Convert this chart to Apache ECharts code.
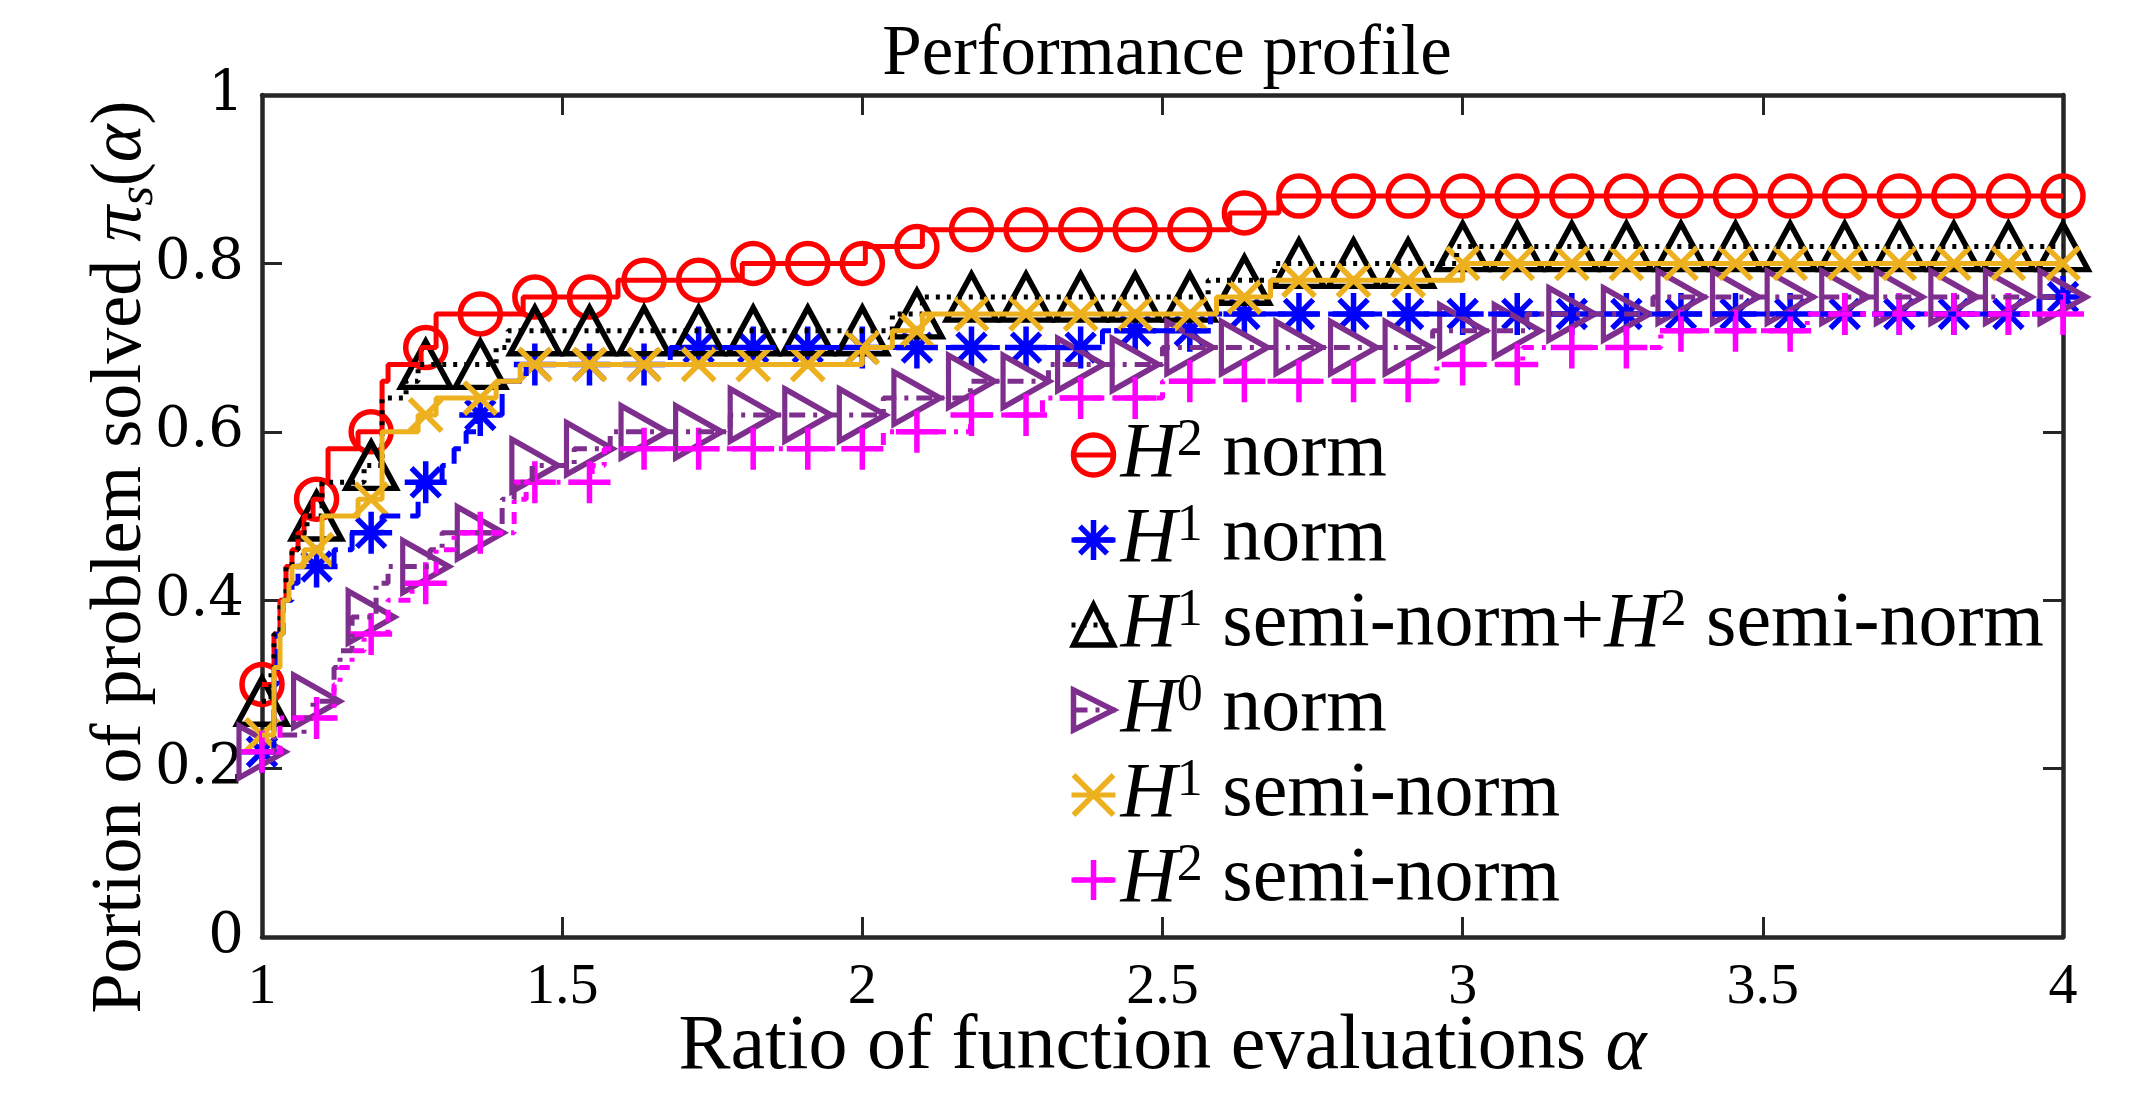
<!DOCTYPE html>
<html lang="en">
<head>
<meta charset="UTF-8">
<title>Performance profile</title>
<script src="https://cdn.jsdelivr.net/npm/echarts@6/dist/echarts.min.js"></script>
<style>
  html, body { margin: 0; padding: 0; background: #fff; }
  #main { width: 2129px; height: 1107px; }
</style>
</head>
<body>
<div id="main"></div>
<script>
// alpha positions where the markers sit (same for every curve)
var markAlpha = [1, 1.0909, 1.1818, 1.2727, 1.3636, 1.4545, 1.5455, 1.6364, 1.7273, 1.8182,
                 1.9091, 2, 2.0909, 2.1818, 2.2727, 2.3636, 2.4545, 2.5455, 2.6364, 2.7273,
                 2.8182, 2.9091, 3, 3.0909, 3.1818, 3.2727, 3.3636, 3.4545, 3.5455, 3.6364,
                 3.7273, 3.8182, 3.9091, 4];

// stair breakpoints: alpha where the curve steps, and the new value
var h2NormAlpha = [1, 1.02, 1.03, 1.04, 1.05, 1.06, 1.07, 1.085, 1.10, 1.11, 1.16, 1.20, 1.21, 1.265, 1.29, 1.435, 1.593, 1.80, 2.005, 2.10, 2.612, 2.694];
var h2NormRatio = [0.30, 0.36, 0.40, 0.44, 0.46, 0.48, 0.50, 0.52, 0.54, 0.58, 0.60, 0.66, 0.68, 0.70, 0.74, 0.76, 0.78, 0.80, 0.82, 0.84, 0.86, 0.88];

var h1NormAlpha = [1, 1.02, 1.025, 1.035, 1.05, 1.06, 1.12, 1.15, 1.20, 1.26, 1.30, 1.32, 1.34, 1.36, 1.40, 1.44, 1.68, 2.40, 2.58, 3.96];
var h1NormRatio = [0.22, 0.30, 0.36, 0.40, 0.42, 0.44, 0.46, 0.48, 0.50, 0.54, 0.56, 0.58, 0.60, 0.62, 0.66, 0.68, 0.70, 0.72, 0.74, 0.76];

var h1h2SemiAlpha = [1, 1.015, 1.02, 1.03, 1.04, 1.05, 1.06, 1.075, 1.10, 1.17, 1.20, 1.24, 1.26, 1.39, 1.41, 2.05, 2.10, 2.576, 2.687, 2.99];
var h1h2SemiRatio = [0.28, 0.32, 0.36, 0.40, 0.44, 0.46, 0.48, 0.50, 0.54, 0.56, 0.64, 0.66, 0.68, 0.70, 0.72, 0.74, 0.76, 0.78, 0.80, 0.82];

var h0NormAlpha = [1, 1.02, 1.07, 1.085, 1.12, 1.13, 1.15, 1.19, 1.21, 1.28, 1.30, 1.40, 1.42, 1.45, 1.52, 1.58, 1.78, 2.035, 2.18, 2.31, 2.50, 2.95, 3.107, 3.317];
var h0NormRatio = [0.22, 0.24, 0.26, 0.28, 0.32, 0.34, 0.38, 0.42, 0.44, 0.46, 0.48, 0.52, 0.54, 0.56, 0.58, 0.60, 0.62, 0.64, 0.66, 0.68, 0.70, 0.72, 0.74, 0.76];

var h1SemiAlpha = [1, 1.02, 1.03, 1.035, 1.045, 1.05, 1.07, 1.10, 1.16, 1.20, 1.26, 1.29, 1.39, 1.43, 2.00, 2.05, 2.10, 2.59, 2.68, 3.00];
var h1SemiRatio = [0.24, 0.32, 0.36, 0.40, 0.42, 0.44, 0.46, 0.50, 0.52, 0.60, 0.62, 0.64, 0.66, 0.68, 0.70, 0.72, 0.74, 0.76, 0.78, 0.80];

var h2SemiAlpha = [1, 1.03, 1.12, 1.13, 1.15, 1.17, 1.21, 1.25, 1.29, 1.32, 1.42, 1.44, 1.55, 1.57, 2.035, 2.18, 2.30, 2.50, 2.957, 3.10, 3.33, 3.574];
var h2SemiRatio = [0.22, 0.26, 0.30, 0.32, 0.34, 0.36, 0.40, 0.42, 0.46, 0.48, 0.52, 0.54, 0.56, 0.58, 0.60, 0.62, 0.64, 0.66, 0.68, 0.70, 0.72, 0.74];

var xTicks = [1, 1.5, 2, 2.5, 3, 3.5, 4];
var yTicks = [0, 0.2, 0.4, 0.6, 0.8, 1];

var legendText = {
    'h2norm': '{i|H}{sup|2}{n| norm}',
    'h1norm': '{i|H}{sup|1}{n| norm}',
    'h1h2semi': '{i|H}{sup|1}{n| semi-norm+}{i|H}{sup|2}{n| semi-norm}',
    'h0norm': '{i|H}{sup|0}{n| norm}',
    'h1semi': '{i|H}{sup|1}{n| semi-norm}',
    'h2semi': '{i|H}{sup|2}{n| semi-norm}'
};

// stair line points
function stairData(alphas, ratios) {
    var pts = [];
    for (var i = 0; i < alphas.length; i++) pts.push([alphas[i], ratios[i]]);
    pts.push([markAlpha[markAlpha.length - 1], ratios[ratios.length - 1]]);
    return pts;
}

// markers: value of the stairs at each marker alpha
function markData(alphas, ratios) {
    var pts = [];
    for (var k = 0; k < markAlpha.length; k++) {
        var a = markAlpha[k], v = ratios[0];
        for (var j = 0; j < alphas.length; j++) {
            if (alphas[j] <= a + 1e-9) v = ratios[j];
        }
        pts.push([a, v]);
    }
    return pts;
}

var LW = 5;      // stair line width
var MW = 5.5;    // marker stroke width
function curve(name, alphas, ratios, color, dash, symbol, size) {
    return [{
        name: name,
        type: 'line',
        step: 'end',
        data: stairData(alphas, ratios),
        symbol: symbol,
        symbolSize: size,
        showSymbol: false,
        lineStyle: {color: color, width: LW, type: dash},
        itemStyle: {color: 'rgba(0,0,0,0)', borderColor: color, borderWidth: MW},
        emphasis: {disabled: true},
        silent: true
    }, {
        name: name + '_marks',
        type: 'scatter',
        data: markData(alphas, ratios),
        symbol: symbol,
        symbolSize: size,
        clip: false,
        itemStyle: {color: 'rgba(0,0,0,0)', borderColor: color, borderWidth: MW, opacity: 1},
        emphasis: {disabled: true},
        silent: true
    }];
}

var serif = 'Liberation Serif';
var axisColor = '#262626';

var myChart = echarts.init(document.getElementById('main'));

var series = [].concat(
    curve('h2norm', h2NormAlpha, h2NormRatio, '#ff0000', 'solid', 'circle', 40),
    curve('h1norm', h1NormAlpha, h1NormRatio, '#0000ff', [22, 10],
          'path://M5,0L5,10M0,5L10,5M1.6,1.6L8.4,8.4M8.4,1.6L1.6,8.4', 42),
    curve('h1h2semi', h1h2SemiAlpha, h1h2SemiRatio, '#000000', [4, 7], 'triangle', [50, 46]),
    curve('h0norm', h0NormAlpha, h0NormRatio, '#7e2f8e', [16, 8, 4, 8],
          'path://M0,0L10,5L0,10Z', [46, 52]),
    curve('h1semi', h1SemiAlpha, h1SemiRatio, '#edb120', 'solid',
          'path://M0,0L10,10M10,0L0,10', 32),
    curve('h2semi', h2SemiAlpha, h2SemiRatio, '#ff00ff', [12, 8, 4, 8],
          'path://M5,0L5,10M0,5L10,5', 42)
);

var option = {
    backgroundColor: '#fff',
    animation: false,
    title: {
        text: 'Performance profile',
        left: 1162,
        top: 15,
        textAlign: 'center',
        textStyle: {fontFamily: serif, fontSize: 71, fontWeight: 'normal', color: '#000'}
    },
    grid: {left: 262, right: 66, top: 95, bottom: 170},
    legend: {
        orient: 'vertical',
        left: 1064,
        top: 410,
        itemWidth: 44,
        itemHeight: 50,
        itemGap: 6,
        selectedMode: false,
        itemStyle: {borderWidth: MW},
        lineStyle: {width: LW},
        formatter: function (name) { return legendText[name]; },
        textStyle: {
            fontFamily: serif, fontSize: 78, color: '#000',
            rich: {
                n: {fontFamily: serif, fontSize: 78, lineHeight: 80, color: '#000'},
                i: {fontFamily: serif, fontSize: 78, lineHeight: 80, fontStyle: 'italic', color: '#000'},
                sup: {fontFamily: serif, fontSize: 52, lineHeight: 48, verticalAlign: 'top', color: '#000'}
            }
        },
        data: ['h2norm', 'h1norm', 'h1h2semi', 'h0norm', 'h1semi', 'h2semi']
    },
    xAxis: [{
        type: 'value', min: xTicks[0], max: xTicks[xTicks.length - 1], interval: 0.5,
        position: 'bottom',
        axisLine: {show: true, onZero: false, lineStyle: {color: axisColor, width: 4.5}},
        axisTick: {show: true, inside: true, length: 20, lineStyle: {color: axisColor, width: 3}},
        axisLabel: {fontFamily: serif, fontSize: 58, color: '#000', margin: 22},
        splitLine: {show: false},
        name: 'Ratio of function evaluations {i|α}',
        nameLocation: 'middle',
        nameGap: 72,
        nameMoveOverlap: false,
        nameTextStyle: {
            fontFamily: serif, fontSize: 78, color: '#000',
            rich: {i: {fontFamily: serif, fontSize: 78, fontStyle: 'italic', color: '#000'}}
        }
    }, {
        type: 'value', min: xTicks[0], max: xTicks[xTicks.length - 1], interval: 0.5,
        position: 'top',
        axisLine: {show: true, onZero: false, lineStyle: {color: axisColor, width: 4.5}},
        axisTick: {show: true, inside: true, length: 20, lineStyle: {color: axisColor, width: 3}},
        axisLabel: {show: false},
        splitLine: {show: false}
    }],
    yAxis: [{
        type: 'value', min: yTicks[0], max: yTicks[yTicks.length - 1], interval: 0.2,
        position: 'left',
        axisLine: {show: true, onZero: false, lineStyle: {color: axisColor, width: 4.5}},
        axisTick: {show: true, inside: true, length: 20, lineStyle: {color: axisColor, width: 3}},
        axisLabel: {fontFamily: 'DejaVu Serif', fontSize: 56, color: '#000', margin: 18},
        splitLine: {show: false},
        name: '{n|Portion of problem solved }{i|π}{sub|s}{n|(}{i|α}{n|)}',
        nameLocation: 'middle',
        nameGap: 98,
        nameMoveOverlap: false,
        nameTextStyle: {
            fontFamily: serif, fontSize: 72, color: '#000',
            padding: [0, 82, 0, 0],
            rich: {
                n: {fontFamily: serif, fontSize: 72, lineHeight: 86, color: '#000'},
                i: {fontFamily: serif, fontSize: 72, lineHeight: 86, fontStyle: 'italic', color: '#000'},
                sub: {fontFamily: serif, fontSize: 50, lineHeight: 46, fontStyle: 'italic', verticalAlign: 'bottom', color: '#000'}
            }
        }
    }, {
        type: 'value', min: yTicks[0], max: yTicks[yTicks.length - 1], interval: 0.2,
        position: 'right',
        axisLine: {show: true, onZero: false, lineStyle: {color: axisColor, width: 4.5}},
        axisTick: {show: true, inside: true, length: 20, lineStyle: {color: axisColor, width: 3}},
        axisLabel: {show: false},
        splitLine: {show: false}
    }],
    series: series
};

myChart.setOption(option);
</script>
</body>
</html>
